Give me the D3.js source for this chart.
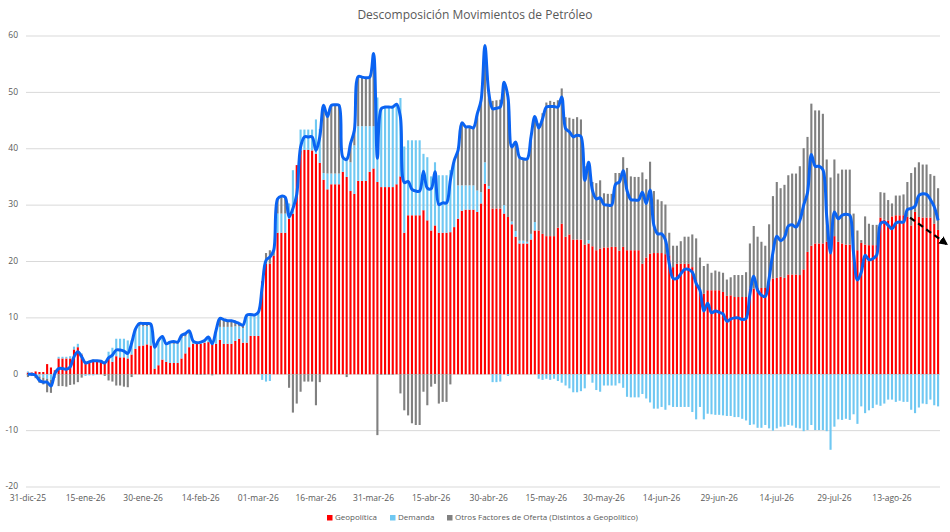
<!DOCTYPE html>
<html>
<head>
<meta charset="utf-8">
<script src="https://d3js.org/d3.v7.min.js"></script>
<style>
  body { margin: 0; background: #ffffff; }
  text { font-family: "Open Sans", sans-serif; fill: #595959; }
</style>
</head>
<body>
<div id="chart"></div>
<script>

// one value per day, from 31-dic-25 to 25-ago-26
var startDate = new Date(2025, 11, 31);

var geopolitica = [
  0.3,0.3,0.5,0.4,0.4,1.8,1.2,0.7,2.8,2.8,
  2.8,2.8,4.4,4.8,3.5,1.8,2.2,2.2,2.2,2.2,
  2.0,2.8,2.2,3.2,3.0,3.0,2.8,3.5,4.5,5.0,
  5.1,5.3,5.1,1.0,1.6,2.6,2.2,2.0,2.0,2.0,
  2.8,3.7,4.8,5.4,5.4,5.4,5.6,5.7,5.4,5.4,
  6.1,5.4,5.4,5.4,5.9,6.3,5.6,5.6,6.8,6.8,
  6.8,16.5,19.6,19.6,21.0,25.1,25.1,25.1,27.6,28.5,
  37.1,39.7,39.8,39.8,39.7,39.1,37.5,34.5,32.8,33.7,
  33.7,33.7,35.9,35.0,32.5,32.0,34.3,34.3,34.3,35.9,
  36.5,34.1,33.2,33.2,33.2,33.2,33.7,35.1,25.1,28.2,
  28.2,28.2,28.2,29.1,27.3,25.5,26.4,25.1,25.1,25.1,
  25.2,26.1,27.6,29.0,29.2,29.2,29.2,28.8,30.3,33.8,
  32.9,29.4,29.4,29.4,28.5,27.9,26.6,24.4,23.2,23.2,
  23.2,23.9,25.5,25.5,24.9,24.5,24.5,24.5,26.0,26.7,
  24.4,24.8,23.9,23.9,23.9,23.0,23.2,22.7,22.0,22.3,
  22.5,22.5,22.6,22.6,21.9,22.6,22.0,22.0,22.0,22.0,
  19.6,20.7,21.4,21.5,21.5,21.5,21.3,21.1,19.0,19.6,
  19.6,19.6,19.6,19.0,16.7,14.6,14.3,14.9,14.9,14.9,
  14.9,14.6,13.9,14.0,13.7,13.7,13.7,13.7,15.2,15.2,
  15.3,15.3,15.3,16.8,17.0,17.1,17.3,17.1,17.7,17.7,
  17.7,17.6,18.6,21.7,22.8,23.2,23.2,23.2,23.5,22.5,
  24.5,23.5,23.2,23.0,23.0,22.0,22.0,23.3,23.0,22.9,
  22.9,22.9,27.8,27.4,27.3,28.0,28.2,28.2,28.2,27.9,
  26.4,28.8,27.9,27.8,27.8,27.8,26.7,25.6
];

var demanda = [
  0.2,0,-0.3,-0.4,-0.6,-0.8,-1.0,-0.5,0.3,0.3,
  0.3,0.4,0.5,0.6,0.2,-0.3,-0.2,-0.2,-0.1,0.1,
  0.3,1.2,2.5,3.1,3.3,3.3,3.2,2.5,3.5,3.5,
  3.4,3.2,3.3,3.8,4.2,3.9,3.0,3.5,3.4,3.4,
  3.6,3.0,2.4,0.5,0.3,0.4,0.5,0.9,0.2,2.4,
  2.3,3.0,3.0,3.0,2.6,2.2,2.6,4.6,3.6,3.5,
  4.0,-1.0,-1.3,-1.2,0,3.4,3.4,3.4,2.7,7.7,
  0,3.7,3.6,3.6,3.7,6.1,6.0,1.2,2.8,1.9,
  1.9,1.9,2.6,3.6,5.1,8.6,9.7,9.7,9.7,8.1,
  7.5,15.0,14.0,14.3,14.3,14.3,14.2,13.9,15.3,13.3,
  13.3,13.3,13.3,10.0,11.2,9.6,11.2,10.2,10.2,10.2,
  11.0,11.8,5.9,4.5,4.3,4.3,4.3,3.8,2.0,3.8,
  0.5,-1.4,-1.4,-1.3,1.5,-0.3,0.5,1.0,0.5,0.5,
  0.3,1.0,1.5,-0.8,-1.0,-0.8,-1.0,-0.8,-1.2,-1.5,
  -2.0,-2.5,-3.2,-3.2,-3.0,-2.5,0.6,-1.5,-2.8,-3.1,
  -2.0,-2.0,-2.0,-2.0,-1.6,-2.4,-4.0,-4.1,-4.1,-4.1,
  -3.5,-4.3,-5.0,-6.1,-6.1,-5.8,-6.3,-5.5,-5.8,-5.8,
  -5.8,-5.8,-5.8,-6.7,-8.0,-5.8,-8.0,-7.0,-7.1,-7.2,
  -7.2,-7.3,-7.4,-7.4,-7.6,-7.6,-7.9,-8.2,-9.0,-8.9,
  -9.5,-9.5,-9.0,-9.6,-10.0,-9.6,-9.3,-9.3,-9.0,-9.1,
  -9.5,-9.6,-10.1,-9.9,-9.0,-9.9,-9.9,-9.9,-10.1,-13.4,
  -9.3,-8.0,-8.1,-7.9,-8.1,-7.1,-8.8,-5.7,-6.9,-6.4,
  -6.0,-5.4,-5.6,-5.2,-4.5,-4.5,-4.9,-4.7,-4.9,-4.9,
  -6.3,-6.9,-5.9,-5.2,-5.3,-4.5,-5.5,-5.7
];

var otros = [
  -0.5,-0.3,-0.4,-1.1,-1.2,-2.4,-2.3,-0.1,-2.1,-2.1,
  -2.2,-1.9,-1.8,-1.4,-0.6,0.5,0.2,0.4,0.3,0,
  -0.3,-1.1,-1.3,-2.0,-2.0,-2.2,-2.3,-0.5,0,0.5,
  0.5,0.5,0.5,0,0.2,0.2,0.2,0.2,0.4,0.3,
  0.5,0.5,0.5,0,-0.1,-0.1,-0.1,0,-0.2,0,
  1.5,1.3,1.1,1.1,0.8,0.5,0.5,0.3,0.2,0.2,
  0.2,0,1.9,2.4,1.0,2.6,3.1,2.9,-2.4,-6.8,
  -5.2,-3.1,-1.3,-1.3,-1.3,-5.5,-1.4,12.0,10.1,12.1,
  12.2,12.1,0,-0.5,3.3,2.7,8.8,8.7,8.6,8.7,
  12.9,-10.8,-0.1,-0.1,-0.1,-0.1,0,-3.4,-6.4,-7.3,
  -8.7,-9.0,-9.0,-3.1,-5.5,-2.2,-1.7,-5.2,-4.9,-4.9,
  -1.8,0,6.2,11.1,10.4,10.4,10.2,13.6,16.3,20.7,
  16.6,19.1,19.2,19.3,21.8,21.6,13.2,15.8,14.8,14.5,
  14.7,17.2,18.7,19.0,21.4,23.7,24.0,23.8,22.6,24.0,
  21.2,20.7,21.4,21.7,21.3,13.9,13.8,11.4,11.9,12.1,
  9.6,9.5,9.4,13.1,13.8,15.9,14.6,13.1,13.0,13.0,
  16.2,13.9,16.3,11.0,9.5,9.2,8.8,4.0,3.8,3.2,
  4.0,4.8,4.8,5.8,7.4,6.1,4.9,4.7,3.1,3.5,
  3.3,3.4,2.9,3.2,3.9,3.9,3.9,4.4,8.0,11.1,
  9.1,8.2,7.5,9.8,14.6,17.0,15.7,16.5,17.6,17.9,
  17.9,19.3,21.5,20.4,25.2,23.6,23.6,23.0,14.6,12.4,
  13.6,12.1,13.1,13.3,13.3,6.5,3.5,0.5,5.0,3.8,
  3.6,3.6,4.5,4.8,3.6,2.3,3.5,3.5,3.7,6.2,
  9.3,7.9,9.7,9.4,9.4,7.7,8.5,7.4
];

var tickLabels = ["31-dic-25","15-ene-26","30-ene-26","14-feb-26","01-mar-26","16-mar-26",
  "31-mar-26","15-abr-26","30-abr-26","15-may-26","30-may-26","14-jun-26",
  "29-jun-26","14-jul-26","29-jul-26","13-ago-26"];
var tickEvery = 15;
var yTicks = [60, 50, 40, 30, 20, 10, 0, -10, -20];

var seriesNames = ["Geopolítica", "Demanda", "Otros Factores de Oferta (Distintos a Geopolítico)"];
var seriesColors = ["#ff0000", "#6fc8f2", "#808080"];

// arrow annotation (day index, value)
var arrowFrom = [229.7, 27.8], arrowTo = [239.2, 23.1];

/* svg set up */
var W = 950, H = 532;
var plot = { left: 26, right: 940, top: 36, bottom: 487 };

var svg = d3.select("#chart").append("svg")
  .attr("width", W).attr("height", H);

// build rows for the stack
var rows = geopolitica.map(function (g, i) {
  return {
    i: i,
    date: d3.timeDay.offset(startDate, i),
    geo: g, dem: demanda[i], oth: otros[i],
    total: g + demanda[i] + otros[i]
  };
});

var x = d3.scaleBand()
  .domain(rows.map(d => d.i))
  .range([plot.left, plot.right])
  .paddingInner(0.45)
  .paddingOuter(0.225);

var y = d3.scaleLinear()
  .domain([-20, 60])
  .range([plot.bottom, plot.top]);

// gridlines
svg.append("g").selectAll("line")
  .data(yTicks)
  .enter().append("line")
  .attr("x1", plot.left).attr("x2", plot.right)
  .attr("y1", d => y(d)).attr("y2", d => y(d))
  .attr("stroke", "#d9d9d9").attr("stroke-width", 1);

// y labels
svg.append("g").selectAll("text")
  .data(yTicks)
  .enter().append("text")
  .attr("x", 18).attr("y", d => y(d))
  .attr("text-anchor", "end")
  .attr("dominant-baseline", "middle")
  .style("font-size", "8.5px")
  .text(d => d);

// stacked bars, positives up and negatives down
var stack = d3.stack()
  .keys(["geo", "dem", "oth"])
  .offset(d3.stackOffsetDiverging);
var layers = stack(rows);

svg.append("g").selectAll("g")
  .data(layers)
  .enter().append("g")
  .attr("fill", (d, k) => seriesColors[k])
  .selectAll("rect")
  .data(d => d)
  .enter().append("rect")
  .attr("x", d => x(d.data.i))
  .attr("width", x.bandwidth())
  .attr("y", d => y(Math.max(d[0], d[1])))
  .attr("height", d => Math.abs(y(d[0]) - y(d[1])));

// total line
var line = d3.line()
  .x(d => x(d.i) + x.bandwidth() / 2)
  .y(d => y(d.total))
  .curve(d3.curveCatmullRom.alpha(0.5));

svg.append("path")
  .datum(rows)
  .attr("d", line)
  .attr("fill", "none")
  .attr("stroke", "#0a63f2")
  .attr("stroke-width", 3)
  .attr("stroke-linejoin", "round");

// x labels
svg.append("g").selectAll("text")
  .data(tickLabels)
  .enter().append("text")
  .attr("x", (d, k) => x(k * tickEvery) + x.bandwidth() / 2)
  .attr("y", 499)
  .attr("text-anchor", "middle")
  .attr("dominant-baseline", "middle")
  .style("font-size", "8.5px")
  .text(d => d);

// dashed arrow
var defs = svg.append("defs");
defs.append("marker")
  .attr("id", "arrowhead")
  .attr("viewBox", "0 0 10 10")
  .attr("refX", 8).attr("refY", 5)
  .attr("markerWidth", 4).attr("markerHeight", 4)
  .attr("orient", "auto")
  .append("path")
  .attr("d", "M0,0 L10,5 L0,10 z")
  .attr("fill", "#000");

var xDay = d => plot.left + (d + 0.5) * x.step();
svg.append("line")
  .attr("x1", xDay(arrowFrom[0])).attr("y1", y(arrowFrom[1]))
  .attr("x2", xDay(arrowTo[0])).attr("y2", y(arrowTo[1]))
  .attr("stroke", "#000").attr("stroke-width", 2.2)
  .attr("stroke-dasharray", "6,4")
  .attr("marker-end", "url(#arrowhead)");

// title
svg.append("text")
  .attr("x", W / 2).attr("y", 16)
  .attr("text-anchor", "middle")
  .attr("dominant-baseline", "middle")
  .style("font-size", "12px")
  .text("Descomposición Movimientos de Petróleo");

// legend
var legendX = [327, 390, 447];
var legend = svg.append("g").selectAll("g")
  .data(seriesNames)
  .enter().append("g")
  .attr("transform", (d, k) => "translate(" + legendX[k] + ",518)");
legend.append("rect")
  .attr("x", 0).attr("y", -3).attr("width", 5.5).attr("height", 5.5)
  .attr("fill", (d, k) => seriesColors[k]);
legend.append("text")
  .attr("x", 8).attr("y", 0)
  .attr("dominant-baseline", "middle")
  .style("font-size", "8px")
  .text(d => d);

</script>
</body>
</html>
